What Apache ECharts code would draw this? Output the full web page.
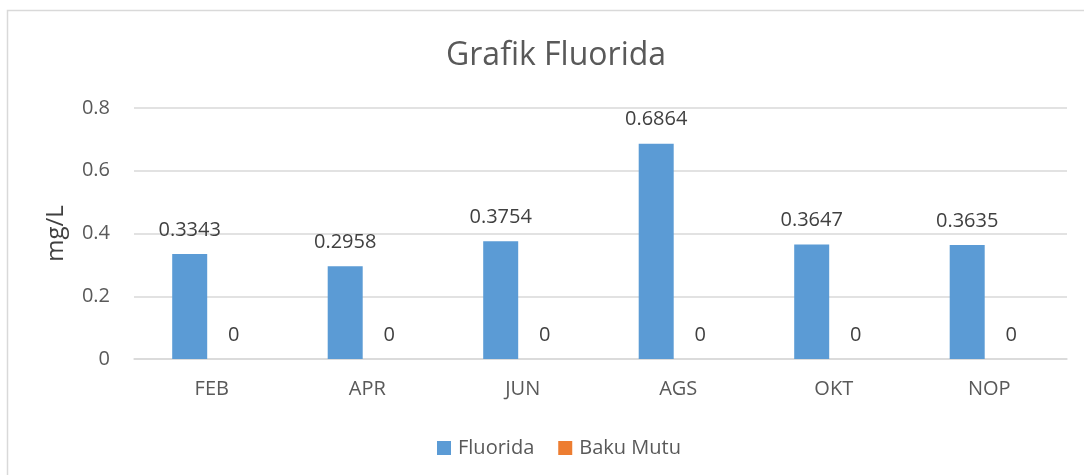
<!DOCTYPE html>
<html><head><meta charset="utf-8">
<script src="https://cdn.jsdelivr.net/npm/echarts@6/dist/echarts.min.js"></script>
<style>html,body{margin:0;padding:0;background:#fff}#c{width:1084px;height:475px}</style>
</head><body><div id="c"></div>
<script>
const categories = ['FEB','APR','JUN','AGS','OKT','NOP'];
const fluorida = [0.3343,0.2958,0.3754,0.6864,0.3647,0.3635];
const bakuMutu = [0,0,0,0,0,0];
const yTicks = {min:0,max:0.8,interval:0.2};
const FONT = '"Open Sans", "Noto Sans", sans-serif';
const chart = echarts.init(document.getElementById('c'), null, {renderer:'canvas'});
chart.setOption({
  animation:false,
  textStyle:{fontFamily:FONT},
  graphic:[{type:'rect',shape:{x:7.5,y:10.5,width:1200,height:600},style:{fill:'none',stroke:'#d9d9d9',lineWidth:1.5},silent:true}],
  title:{text:'Grafik Fluorida',left:441,top:35,textStyle:{fontFamily:FONT,fontSize:32,fontWeight:'normal',color:'#595959'}},
  legend:{top:433,left:432,itemWidth:14,itemHeight:14,itemGap:24,icon:'rect',
    textStyle:{fontFamily:FONT,fontSize:20,color:'#595959',padding:[0,0,0,2]},data:['Fluorida','Baku Mutu']},
  grid:{left:134,right:17,top:108,bottom:116},
  xAxis:{type:'category',data:categories,
    axisLine:{lineStyle:{color:'#d9d9d9',width:1.5}},axisTick:{show:false},
    axisLabel:{fontFamily:FONT,fontSize:20,color:'#595959',margin:20}},
  yAxis:{type:'value',min:yTicks.min,max:yTicks.max,interval:yTicks.interval,
    name:'mg/L',nameLocation:'middle',nameGap:66,nameMoveOverlap:false,
    nameTextStyle:{fontFamily:FONT,fontSize:24,color:'#404040'},
    axisLine:{show:false},axisTick:{show:false},
    splitLine:{lineStyle:{color:'#d9d9d9',width:1.5}},
    axisLabel:{fontFamily:FONT,fontSize:20,color:'#595959',margin:24,formatter:v=>String(+v.toFixed(1))}},
  series:[
    {name:'Fluorida',type:'bar',data:fluorida,barWidth:35,barGap:'26%',itemStyle:{color:'#5b9bd5'},
      label:{show:true,position:'top',distance:14,fontFamily:FONT,fontSize:20,color:'#404040'}},
    {name:'Baku Mutu',type:'bar',data:bakuMutu,barWidth:35,itemStyle:{color:'#ed7d31'},
      label:{show:true,position:'top',distance:14,fontFamily:FONT,fontSize:20,color:'#404040'}}
  ]
});
</script></body></html>
